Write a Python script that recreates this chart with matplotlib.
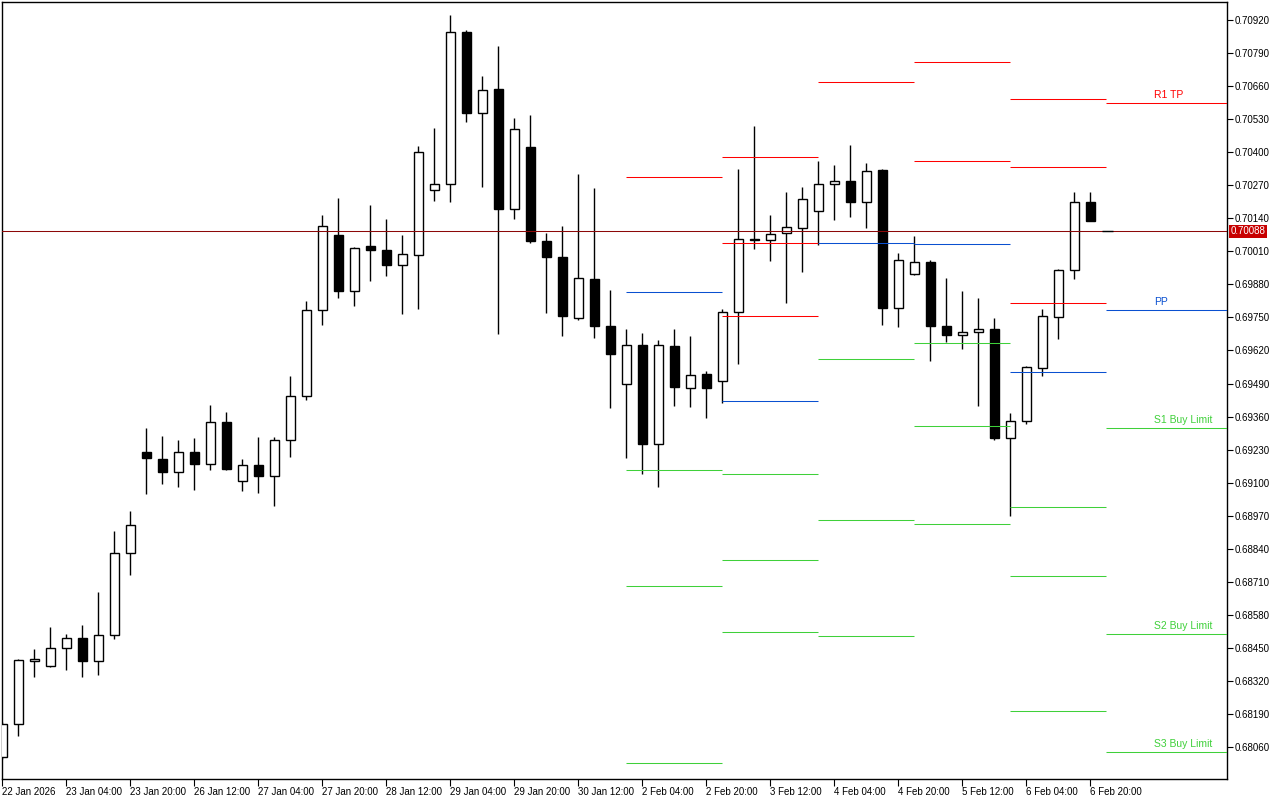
import numpy as np
import matplotlib
matplotlib.use("Agg")
import matplotlib.pyplot as plt

plt.rcParams['font.family'] = ['Liberation Sans', 'DejaVu Sans']

# H4 candles, 22 Jan 2026 12:00 .. 6 Feb 2026 20:00
opens = [0.68024, 0.68152, 0.68400, 0.68380, 0.68451, 0.68490, 0.68398, 0.68502, 0.68823, 0.69221,
         0.69194, 0.69143, 0.69221, 0.69174, 0.69339, 0.69107, 0.69170, 0.69127, 0.69268, 0.69442,
         0.69779, 0.70074, 0.69853, 0.70031, 0.70015, 0.69956, 0.69994, 0.70251, 0.70274, 0.70872,
         0.70553, 0.70648, 0.70176, 0.70420, 0.70051, 0.69987, 0.69748, 0.69901, 0.69717, 0.69488,
         0.69641, 0.69253, 0.69639, 0.69473, 0.69529, 0.69499, 0.69771, 0.70059, 0.70054, 0.70081,
         0.70101, 0.70168, 0.70274, 0.70286, 0.70204, 0.70327, 0.69787, 0.69921, 0.69968, 0.69717,
         0.69681, 0.69693, 0.69706, 0.69275, 0.69343, 0.69551, 0.69752, 0.69936, 0.70204]
highs = [0.68160, 0.68408, 0.68448, 0.68533, 0.68507, 0.68541, 0.68672, 0.68912, 0.68990, 0.69317,
         0.69285, 0.69269, 0.69277, 0.69407, 0.69379, 0.69195, 0.69281, 0.69281, 0.69521, 0.69816,
         0.70154, 0.70220, 0.70028, 0.70193, 0.70138, 0.70075, 0.70425, 0.70492, 0.70936, 0.70880,
         0.70699, 0.70817, 0.70534, 0.70545, 0.70082, 0.70109, 0.70315, 0.70260, 0.69859, 0.69704,
         0.69689, 0.69659, 0.69706, 0.69678, 0.69541, 0.69784, 0.70331, 0.70500, 0.70154, 0.70244,
         0.70264, 0.70366, 0.70350, 0.70429, 0.70358, 0.70331, 0.70004, 0.70071, 0.69977, 0.69906,
         0.69855, 0.69824, 0.69747, 0.69376, 0.69560, 0.69784, 0.69940, 0.70244, 0.70244]
lows = [0.68015, 0.68103, 0.68335, 0.68375, 0.68364, 0.68335, 0.68343, 0.68485, 0.68736, 0.69057,
        0.69094, 0.69082, 0.69070, 0.69149, 0.69152, 0.69068, 0.69058, 0.69007, 0.69201, 0.69427,
        0.69719, 0.69825, 0.69793, 0.69892, 0.69911, 0.69763, 0.69782, 0.70206, 0.70202, 0.70516,
        0.70261, 0.69685, 0.70135, 0.70041, 0.69766, 0.69675, 0.69740, 0.69668, 0.69392, 0.69196,
        0.69136, 0.69082, 0.69400, 0.69398, 0.69353, 0.69414, 0.69565, 0.70020, 0.69970, 0.69805,
        0.69927, 0.70033, 0.70131, 0.70143, 0.70100, 0.69719, 0.69711, 0.69915, 0.69577, 0.69655,
        0.69624, 0.69400, 0.69267, 0.68968, 0.69330, 0.69518, 0.69664, 0.69899, 0.70127]
closes = [0.68153, 0.68404, 0.68408, 0.68451, 0.68490, 0.68398, 0.68502, 0.68824, 0.68934, 0.69196,
          0.69141, 0.69221, 0.69173, 0.69339, 0.69155, 0.69170, 0.69125, 0.69268, 0.69442, 0.69779,
          0.70109, 0.69852, 0.70023, 0.70013, 0.69954, 0.69999, 0.70400, 0.70274, 0.70872, 0.70552,
          0.70644, 0.70174, 0.70490, 0.70049, 0.69986, 0.69754, 0.69905, 0.69715, 0.69605, 0.69641,
          0.69251, 0.69641, 0.69475, 0.69524, 0.69471, 0.69771, 0.70058, 0.70052, 0.70078, 0.70105,
          0.70215, 0.70274, 0.70286, 0.70202, 0.70325, 0.69785, 0.69976, 0.69968, 0.69715, 0.69681,
          0.69693, 0.69704, 0.69275, 0.69343, 0.69555, 0.69756, 0.69936, 0.70204, 0.70127]

last_price = 0.70088

tick_bars = list(range(0, 69, 4))
tick_labels = ["22 Jan 2026", "23 Jan 04:00", "23 Jan 20:00", "26 Jan 12:00", "27 Jan 04:00",
               "27 Jan 20:00", "28 Jan 12:00", "29 Jan 04:00", "29 Jan 20:00", "30 Jan 12:00",
               "2 Feb 04:00", "2 Feb 20:00", "3 Feb 12:00", "4 Feb 04:00", "4 Feb 20:00",
               "5 Feb 12:00", "6 Feb 04:00", "6 Feb 20:00"]

# daily pivot levels (first bar of each day), nan = off the chart
day_start = [39, 45, 51, 57, 63, 69]
nan = np.nan
r3 = [nan, 0.70380, nan, nan, 0.70608, nan]
r2 = [nan, 0.70042, nan, 0.70754, 0.70341, nan]
r1 = [0.70302, 0.69756, 0.70675, 0.70365, 0.69807, 0.70593]
pp = [0.69850, 0.69421, 0.70042, 0.70039, 0.69535, 0.69779]
s1 = [0.69150, 0.69135, 0.69587, 0.69649, 0.69005, 0.69315]
s2 = [0.68694, 0.68797, 0.68954, 0.69323, 0.68734, 0.68506]
s3 = [0.67999, 0.68514, 0.68498, 0.68938, 0.68203, 0.68042]
level_names = ["R1 TP", "PP", "S1 Buy Limit", "S2 Buy Limit", "S3 Buy Limit"]

RED = "#ff0000"
BLUE = "#0a50d0"
GREEN = "#3fd03a"

fig = plt.figure(figsize=(12.8, 8), dpi=100)
ax = fig.add_axes([2 / 1280, 21 / 800, 1225 / 1280, 777 / 800])

x_right = 76.54
ax.set_xlim(-0.02, x_right)
ax.set_ylim(0.67936, 0.70989)

o = np.array(opens)
h = np.array(highs)
l = np.array(lows)
c = np.array(closes)
x = np.arange(len(o))

ax.vlines(x, l, h, color="black", lw=1.0, zorder=2)
up = c >= o
bottom = np.minimum(o, c)
height = np.abs(c - o)
ax.bar(x, height, bottom=bottom, width=0.6,
       color=np.where(up, "white", "black"), edgecolor="black", lw=1.0, zorder=3)

# pivot segments
ends = day_start[1:] + [x_right]
for levels, col in [(r3, RED), (r2, RED), (r1, RED), (pp, BLUE),
                    (s1, GREEN), (s2, GREEN), (s3, GREEN)]:
    for x0, x1, v in zip(day_start, ends, levels):
        if not np.isnan(v):
            ax.hlines(v, x0, x1, color=col, lw=0.75, zorder=4)

# labels on the current day
last = [r1[-1], pp[-1], s1[-1], s2[-1], s3[-1]]
label_cols = [RED, BLUE, GREEN, GREEN, GREEN]
for name, v, col in zip(level_names, last, label_cols):
    ax.annotate(name, (day_start[-1] + 3, v), xytext=(0, 2), textcoords="offset points",
                color=col, fontsize=7.5, ha="left", va="bottom", zorder=5)

# bid line and price tag
ax.axhline(last_price, color="#8c0808", lw=0.75, zorder=4)
ax.hlines(last_price, 68.7, 69.4, color="black", lw=1.0, zorder=5)
ax.annotate(f"{last_price:.5f}", (1.0, last_price), xycoords=("axes fraction", "data"),
            xytext=(2.5, 0), textcoords="offset points", ha="left", va="center",
            color="white", fontsize=7,
            bbox=dict(boxstyle="square,pad=0.18", fc="#c80000", ec="none"),
            annotation_clip=False)

yt = np.arange(0.68060, 0.70921, 0.0013)
ax.yaxis.tick_right()
ax.set_yticks(yt)
ax.set_yticklabels([f"{v:.5f}" for v in yt])
ax.tick_params(axis="y", direction="out", length=4, width=0.8, labelsize=7, pad=1.5)

ax.set_xticks(tick_bars)
ax.set_xticklabels(tick_labels, ha="left")
ax.tick_params(axis="x", direction="out", length=5, width=0.8, labelsize=7, pad=1)

for s in ax.spines.values():
    s.set_linewidth(1.0)
    s.set_color("black")

fig.savefig("out.png", dpi=100, facecolor="white")
